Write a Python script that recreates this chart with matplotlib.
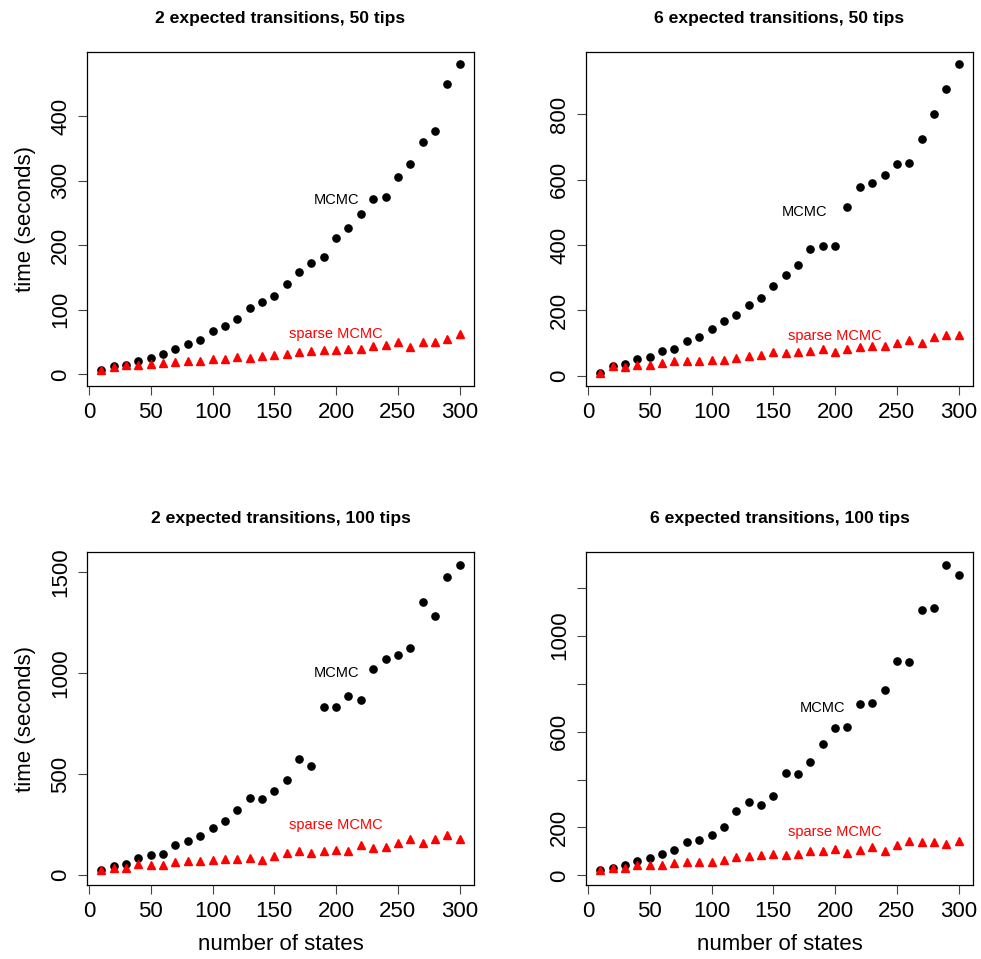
import matplotlib
matplotlib.use("Agg")
import matplotlib.pyplot as plt
import numpy as np

plt.rcParams['font.family'] = ['Liberation Sans', 'DejaVu Sans']

states = np.arange(10, 301, 10)

# 2 expected transitions, 50 tips
mcmc_2_50 = [7, 13, 15, 21, 25, 32, 39, 47, 53, 67, 75, 85, 102, 112, 121,
             140, 158, 173, 182, 211, 227, 249, 272, 275, 306, 326, 359, 377, 450, 480]
sparse_2_50 = [7, 12, 15, 15, 16, 18, 19, 20, 21, 24, 24, 27, 26, 29, 30,
               32, 35, 36, 37, 38, 39, 40, 44, 46, 50, 43, 50, 50, 54, 62]

# 6 expected transitions, 50 tips
mcmc_6_50 = [8, 29, 35, 51, 58, 76, 82, 106, 117, 143, 168, 186, 217, 238, 275,
             309, 340, 389, 398, 398, 515, 579, 591, 613, 647, 650, 726, 800, 877, 953]
sparse_6_50 = [7, 29, 27, 33, 31, 39, 44, 46, 44, 49, 47, 54, 60, 64, 71,
               69, 73, 75, 80, 73, 82, 86, 89, 92, 101, 109, 101, 117, 123, 125]

# 2 expected transitions, 100 tips
mcmc_2_100 = [25, 44, 54, 84, 99, 107, 148, 168, 193, 232, 270, 321, 384, 379, 415,
              473, 576, 542, 833, 833, 887, 868, 1018, 1070, 1090, 1125, 1352, 1283, 1475, 1535]
sparse_2_100 = [25, 38, 38, 54, 53, 51, 66, 69, 72, 77, 81, 82, 87, 77, 95,
                110, 122, 112, 119, 123, 119, 148, 135, 142, 161, 178, 158, 178, 199, 178]

# 6 expected transitions, 100 tips
mcmc_6_100 = [21, 32, 42, 61, 74, 90, 107, 140, 149, 169, 203, 269, 307, 294, 332,
              428, 424, 474, 549, 615, 619, 715, 719, 774, 894, 890, 1107, 1115, 1294, 1253]
sparse_6_100 = [21, 31, 32, 44, 43, 42, 53, 54, 56, 58, 63, 75, 82, 85, 88,
                86, 89, 100, 100, 112, 94, 104, 117, 100, 125, 143, 139, 139, 133, 144]

titles = ["2 expected transitions, 50 tips", "6 expected transitions, 50 tips",
          "2 expected transitions, 100 tips", "6 expected transitions, 100 tips"]

fig = plt.figure(figsize=(9.81, 9.59), dpi=100)

W, H = 981, 959
boxes = [(87, 52, 474, 386), (586, 52, 973, 386),
         (87, 552, 474, 885), (586, 552, 973, 885)]
ylims = [(-18, 499), (-32, 991), (-48, 1599), (-40, 1349)]
yticks = [[0, 100, 200, 300, 400], [0, 200, 400, 600, 800],
          [0, 500, 1000, 1500], [0, 200, 400, 600, 800, 1000, 1200]]
ylabels = [None, None, None, ['0', '200', '', '600', '', '1000', '']]
mcmc_pos = [(200, 270), (175, 500), (200, 1000), (190, 700)]
sparse_pos = [(200, 62), (200, 120), (200, 250), (200, 180)]

data = [(mcmc_2_50, sparse_2_50), (mcmc_6_50, sparse_6_50),
        (mcmc_2_100, sparse_2_100), (mcmc_6_100, sparse_6_100)]

for i, (mc, sp) in enumerate(data):
    l, t, r, b = boxes[i]
    ax = fig.add_axes([l / W, 1 - b / H, (r - l) / W, (b - t) / H])
    ax.plot(states, mc, 'o', color='black', markersize=5.2, linestyle='none')
    ax.plot(states, sp, '^', color='red', markersize=6, linestyle='none')
    ax.set_xlim(-1.6, 311.6)
    ax.set_ylim(*ylims[i])
    ax.set_xticks([0, 50, 100, 150, 200, 250, 300])
    ax.set_yticks(yticks[i])
    if ylabels[i] is not None:
        ax.set_yticklabels(ylabels[i])
    ax.tick_params(axis='both', direction='out', length=6.5, width=0.8,
                   labelsize=16, pad=5, color='#444444')
    ax.tick_params(axis='y', labelrotation=90)
    for lab in ax.get_yticklabels():
        lab.set_va('center')
    for s in ax.spines.values():
        s.set_linewidth(0.9)
    ax.set_title(titles[i], fontsize=12.6, fontweight='bold', pad=21)
    ax.text(*mcmc_pos[i], "MCMC", ha='center', va='center', fontsize=10.5, color='black')
    ax.text(*sparse_pos[i], "sparse MCMC", ha='center', va='center', fontsize=10.5, color='red')
    if i % 2 == 0:
        ax.set_ylabel("time (seconds)", fontsize=16, labelpad=10)
    if i >= 2:
        ax.set_xlabel("number of states", fontsize=16, labelpad=9)

fig.savefig("out.png", dpi=100)
